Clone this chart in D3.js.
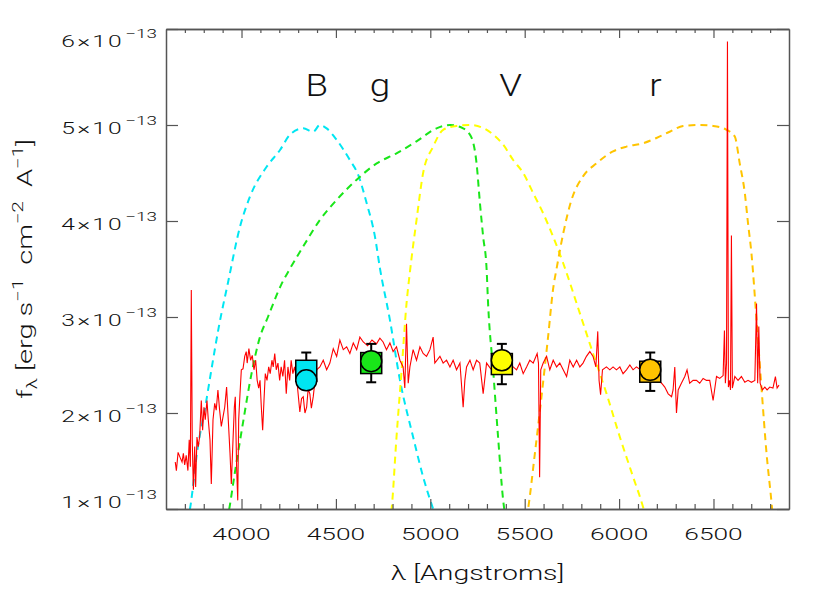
<!DOCTYPE html>
<html>
<head>
<meta charset="utf-8">
<script src="https://cdn.jsdelivr.net/npm/d3@7"></script>
<style>
body { margin: 0; background: #fff; position: relative; }
svg { display: block; font-family: Roboto, Lato, 'Open Sans', sans-serif; font-weight: 300; }
.ytitle { position: absolute; white-space: pre; font-family: Roboto, Lato, 'Open Sans', sans-serif;
  font-weight: 300; font-size: 20px; line-height: 20px; color: #111;
  transform: translate(-50%, -50%) rotate(-90deg) scaleX(1.45); }
.ytitle span { font-size: 14px; position: relative; }
</style>
</head>
<body>
<svg width="830" height="599"></svg>
<script>
// spectrum: wavelength in Angstrom, flux in units of 1e-13 erg/s/cm2/A
const specWave = [3649,3655,3664,3674,3685,3692,3699,3707,3716,3723,3729,3734,3739,3745,3752,3757,3764,3771,3778,3787,
  3794,3801,3808,3817,3824,3833,3840,3849,3858,3866,3875,3884,3893,3902,3911,3921,3928,3939,3946,3955,
  3962,3967,3974,3980,3985,3992,3999,4008,4017,4025,4030,4039,4048,4057,4066,4075,4083,4091,4098,4105,
  4112,4119,4126,4135,4144,4152,4161,4168,4176,4184,4193,4202,4210,4219,4228,4237,4246,4255,4263,4272,
  4281,4295,4309,4318,4327,4336,4345,4353,4362,4370,4380,4390,4398,4415,4433,4451,4468,4486,4504,4521,
  4539,4557,4574,4592,4610,4627,4645,4668,4691,4715,4733,4750,4768,4786,4803,4821,4839,4856,4865,4874,
  4883,4892,4909,4927,4945,4962,4980,4998,5015,5024,5051,5068,5086,5104,5121,5139,5157,5174,5183,5192,
  5210,5227,5245,5262,5280,5298,5320,5350,5380,5410,5439,5457,5474,5492,5510,5527,5545,5566,5573,5579,
  5585,5598,5616,5633,5651,5669,5686,5704,5722,5739,5757,5775,5792,5809,5827,5845,5862,5877,5887,5894,
  5902,5912,5933,5951,5968,5986,6004,6021,6039,6057,6074,6092,6120,6150,6180,6205,6225,6242,6260,6278,
  6286,6295,6304,6313,6330,6348,6360,6374,6392,6410,6427,6445,6463,6480,6498,6516,6533,6551,6558,6563,
  6569,6574,6579,6586,6590,6595,6600,6613,6630,6648,6666,6683,6701,6719,6728,6734,6740,6747,6759,6772,
  6784,6798,6815,6828,6837,6847];
const specFlux = [1.49,1.40,1.59,1.54,1.49,1.58,1.46,1.56,1.40,1.72,1.44,3.28,1.72,1.20,1.65,1.23,1.75,1.65,1.75,2.13,
  1.82,2.06,1.93,2.13,1.93,1.72,1.26,1.93,2.10,2.03,2.24,2.03,1.86,1.96,2.06,2.27,2.00,1.58,1.26,1.72,
  2.06,2.17,1.44,1.09,1.93,2.20,2.45,2.46,2.59,2.64,2.52,2.67,2.55,2.60,2.45,2.55,2.34,2.26,2.34,2.06,
  1.82,2.13,2.41,2.34,2.48,2.41,2.55,2.48,2.62,2.45,2.52,2.34,2.48,2.38,2.55,2.20,2.48,2.34,2.55,2.41,
  2.48,2.30,2.01,2.15,2.17,2.00,2.06,2.25,2.20,2.05,2.17,2.35,2.45,2.48,2.55,2.45,2.52,2.67,2.59,2.76,
  2.66,2.69,2.62,2.73,2.66,2.79,2.74,2.70,2.76,2.72,2.78,2.74,2.66,2.73,2.64,2.69,2.55,2.48,2.26,2.93,
  2.31,2.48,2.66,2.55,2.69,2.62,2.59,2.66,2.79,2.52,2.59,2.52,2.55,2.48,2.55,2.45,2.52,2.06,2.34,2.48,
  2.55,2.45,2.55,2.52,2.20,2.52,2.46,2.50,2.44,2.52,2.48,2.45,2.52,2.41,2.48,2.55,2.52,2.62,2.52,1.33,
  2.45,2.52,2.59,2.45,2.55,2.48,2.52,2.45,2.38,2.55,2.48,2.55,2.48,2.52,2.59,2.64,2.59,2.48,2.85,2.34,
  2.19,2.45,2.48,2.45,2.48,2.45,2.48,2.41,2.45,2.50,2.45,2.48,2.44,2.40,2.38,2.35,2.31,2.27,2.20,2.17,
  2.24,2.48,2.00,2.24,2.31,2.38,2.45,2.31,2.34,2.34,2.31,2.36,2.34,2.34,2.13,2.38,2.36,2.39,2.86,2.31,
  2.52,5.87,2.27,2.34,2.24,3.85,2.26,2.38,2.34,2.38,2.32,2.34,2.32,2.34,3.14,2.31,2.90,2.31,2.24,2.27,
  2.24,2.27,2.26,2.38,2.26,2.29];

// filter transmission curves [wavelength, relative transmission]
const filterB = [[3700,0.15],[3727,0.2],[3769,0.33],[3805,0.406],[3840,0.489],[3880,0.58],[3928,0.671],[3992,0.788],
  [4045,0.851],[4133,0.913],[4204,0.948],[4257,0.98],[4327,0.993],[4380,0.986],[4415,1],[4451,0.993],[4504,0.969],
  [4574,0.927],[4618,0.896],[4663,0.837],[4707,0.767],[4733,0.702],[4786,0.594],[4839,0.469],[4909,0.35],
  [4962,0.267],[5015,0.2],[5060,0.15]];
const filterG = [[3910,0.15],[3935,0.2],[3964,0.274],[4008,0.38],[4052,0.48],[4096,0.556],[4140,0.6],[4210,0.667],
  [4257,0.701],[4327,0.747],[4415,0.802],[4504,0.844],[4610,0.886],[4716,0.92],[4821,0.941],[4927,0.966],
  [5033,0.993],[5104,1],[5174,0.993],[5219,0.973],[5245,0.92],[5263,0.837],[5280,0.767],[5298,0.701],
  [5306,0.629],[5333,0.489],[5359,0.35],[5386,0.218],[5395,0.19]];
const filterV = [[4785,0.17],[4795,0.2],[4821,0.35],[4848,0.489],[4874,0.628],[4892,0.694],[4927,0.802],[4962,0.9],
  [5015,0.955],[5068,0.99],[5139,0.998],[5210,1],[5284,0.993],[5333,0.98],[5386,0.959],[5439,0.927],[5492,0.9],
  [5545,0.858],[5598,0.816],[5651,0.767],[5704,0.712],[5792,0.608],[5862,0.524],[5933,0.441],[6004,0.35],
  [6074,0.267],[6127,0.204],[6150,0.17]];
const filterR = [[5510,0.18],[5518,0.2],[5554,0.316],[5589,0.434],[5624,0.559],[5651,0.66],[5669,0.701],[5704,0.774],
  [5748,0.844],[5809,0.893],[5880,0.92],[5968,0.945],[6039,0.955],[6127,0.962],[6198,0.973],[6268,0.986],
  [6339,0.998],[6428,1],[6498,0.998],[6569,0.99],[6613,0.976],[6639,0.92],[6666,0.858],[6683,0.795],
  [6701,0.733],[6728,0.594],[6754,0.454],[6781,0.316],[6808,0.211],[6815,0.18]];
const filterPeak = 5; // curves scaled to 5e-13

// photometry per band
const bands = ['B', 'g', 'V', 'r'];
const bandColors = ['#00e6f2', '#19e619', '#ffff00', '#ffc400'];
const bandFilters = [filterB, filterG, filterV, filterR];
const bandLabelWave = [4398, 4733, 5425, 6193];
const photWave = [4343, 4687, 5379, 6165];
const synFlux = [2.44, 2.52, 2.51, 2.43];
const synErr = [0.19, 0.20, 0.21, 0.20];
const obsFlux = [2.34, 2.54, 2.55, 2.45];

// ticks
const xMajor = [4000, 4500, 5000, 5500, 6000, 6500];
const xMinor = [3700,3800,3900,4100,4200,4300,4400,4600,4700,4800,4900,5100,5200,5300,5400,
  5600,5700,5800,5900,6100,6200,6300,6400,6600,6700,6800];
const yTicks = [1, 2, 3, 4, 5, 6];

const svg = d3.select('svg');
const width = +svg.attr('width');
const height = +svg.attr('height');
const margin = {top: 29, right: 41, bottom: 90, left: 166};
const innerWidth = width - margin.left - margin.right;
const innerHeight = height - margin.top - margin.bottom;

// the original font is much wider than Roboto, so text is stretched sideways
const stretch = 1.55;

const x = d3.scaleLinear().domain([3600, 6900]).range([0, innerWidth]);
const y = d3.scaleLinear().domain([1, 6]).range([innerHeight, 0]);

const g = svg.append('g').attr('transform', `translate(${margin.left},${margin.top})`);

g.append('clipPath').attr('id', 'plotclip')
  .append('rect').attr('width', innerWidth).attr('height', innerHeight);

const plot = g.append('g').attr('clip-path', 'url(#plotclip)');

// filter curves
const filterLine = d3.line()
  .x(d => x(d[0]))
  .y(d => y(d[1] * filterPeak))
  .curve(d3.curveMonotoneX);

plot.selectAll('path.filter').data(bandFilters)
  .enter().append('path')
    .attr('class', 'filter')
    .attr('d', filterLine)
    .attr('fill', 'none')
    .attr('stroke', (d, i) => bandColors[i])
    .attr('stroke-width', 2)
    .attr('stroke-dasharray', '7,5');

// spectrum
const spec = specWave.map((w, i) => [w, specFlux[i]]);
plot.append('path')
  .datum(spec)
  .attr('d', d3.line().x(d => x(d[0])).y(d => y(d[1])))
  .attr('fill', 'none')
  .attr('stroke', '#ff0000')
  .attr('stroke-width', 1.1);

// photometry markers
const phot = bands.map((b, i) => ({b, i, w: photWave[i], s: synFlux[i], e: synErr[i], o: obsFlux[i]}));
const pg = g.selectAll('g.phot').data(phot).enter().append('g').attr('class', 'phot');

pg.append('line')
  .attr('x1', d => x(d.w)).attr('x2', d => x(d.w))
  .attr('y1', d => y(d.s + d.e)).attr('y2', d => y(d.s - d.e))
  .attr('stroke', '#000').attr('stroke-width', 2);
pg.selectAll('line.cap').data(d => [d.s + d.e, d.s - d.e].map(v => ({w: d.w, v})))
  .enter().append('line')
    .attr('x1', d => x(d.w) - 5).attr('x2', d => x(d.w) + 5)
    .attr('y1', d => y(d.v)).attr('y2', d => y(d.v))
    .attr('stroke', '#000').attr('stroke-width', 2);
pg.append('rect')
  .attr('x', d => x(d.w) - 10.5).attr('y', d => y(d.s) - 10.5)
  .attr('width', 21).attr('height', 21)
  .attr('fill', d => bandColors[d.i])
  .attr('stroke', '#000').attr('stroke-width', 1.5);
pg.append('circle')
  .attr('cx', d => x(d.w)).attr('cy', d => y(d.o)).attr('r', 10.5)
  .attr('fill', d => bandColors[d.i])
  .attr('stroke', '#000').attr('stroke-width', 1.5);

// band labels
g.selectAll('g.band').data(bands)
  .enter().append('g')
    .attr('transform', (d, i) => `translate(${x(bandLabelWave[i])},67) scale(1.15,1)`)
  .append('text')
    .attr('text-anchor', 'middle')
    .attr('font-size', 32)
    .attr('fill', '#111')
    .text(d => d);

// axes, ticks point inward
const axisColor = '#555';
const styleAxis = sel => {
  sel.select('.domain').attr('stroke', axisColor).attr('stroke-width', 1.5);
  sel.selectAll('.tick line').attr('stroke', axisColor).attr('stroke-width', 1.2);
};

g.append('g').attr('transform', `translate(0,${innerHeight})`)
  .call(d3.axisBottom(x).tickValues(xMajor).tickSize(-10).tickSizeOuter(0).tickFormat(''))
  .call(styleAxis);
g.append('g').attr('transform', `translate(0,${innerHeight})`)
  .call(d3.axisBottom(x).tickValues(xMinor).tickSize(-5).tickSizeOuter(0).tickFormat(''))
  .call(styleAxis);
g.append('g')
  .call(d3.axisTop(x).tickValues(xMajor).tickSize(-9).tickSizeOuter(0).tickFormat(''))
  .call(styleAxis);
g.append('g')
  .call(d3.axisTop(x).tickValues(xMinor).tickSize(-4).tickSizeOuter(0).tickFormat(''))
  .call(styleAxis);
g.append('g')
  .call(d3.axisLeft(y).tickValues(yTicks).tickSize(-12).tickSizeOuter(0).tickFormat(''))
  .call(styleAxis);
g.append('g').attr('transform', `translate(${innerWidth},0)`)
  .call(d3.axisRight(y).tickValues(yTicks).tickSize(-12).tickSizeOuter(0).tickFormat(''))
  .call(styleAxis);

// x tick labels
g.selectAll('g.xlab').data(xMajor).enter().append('g')
    .attr('transform', d => `translate(${x(d)},${innerHeight + 31}) scale(${stretch},1)`)
  .append('text')
    .attr('text-anchor', 'middle')
    .attr('font-size', 17).attr('fill', '#111')
    .text(d3.format('d'));

// y tick labels  N×10^-13 (edge labels pulled inside)
const ylab = g.selectAll('g.ylab').data(yTicks).enter().append('g')
  .attr('transform', d => {
    const cy = Math.max(11, Math.min(innerHeight - 8, y(d) + 2));
    return `translate(-9,${cy + 7}) scale(1.45,1)`;
  })
  .append('text')
    .attr('text-anchor', 'end')
    .attr('font-size', 17).attr('fill', '#111');
ylab.append('tspan').attr('letter-spacing', 1.5).text(d => d + '×10');
ylab.append('tspan').attr('font-size', 13).attr('dx', 1).attr('dy', -9).text('−13');

// axis titles
svg.append('g')
  .attr('transform', `translate(${margin.left + innerWidth / 2},580) scale(1.42,1)`)
  .append('text')
    .attr('text-anchor', 'middle')
    .attr('font-size', 20).attr('fill', '#111')
    .text('λ [Angstroms]');

// vertical title as html so the rotated text keeps a true box
d3.select('body').append('div')
  .attr('class', 'ytitle')
  .style('left', '26px')
  .style('top', `${margin.top + innerHeight / 2}px`)
  .html('f<span style="top:5px">λ</span> [erg s<span style="top:-9px">−1</span>  cm<span style="top:-9px">−2</span>  A<span style="top:-9px">−1</span>]');
</script>
</body>
</html>
